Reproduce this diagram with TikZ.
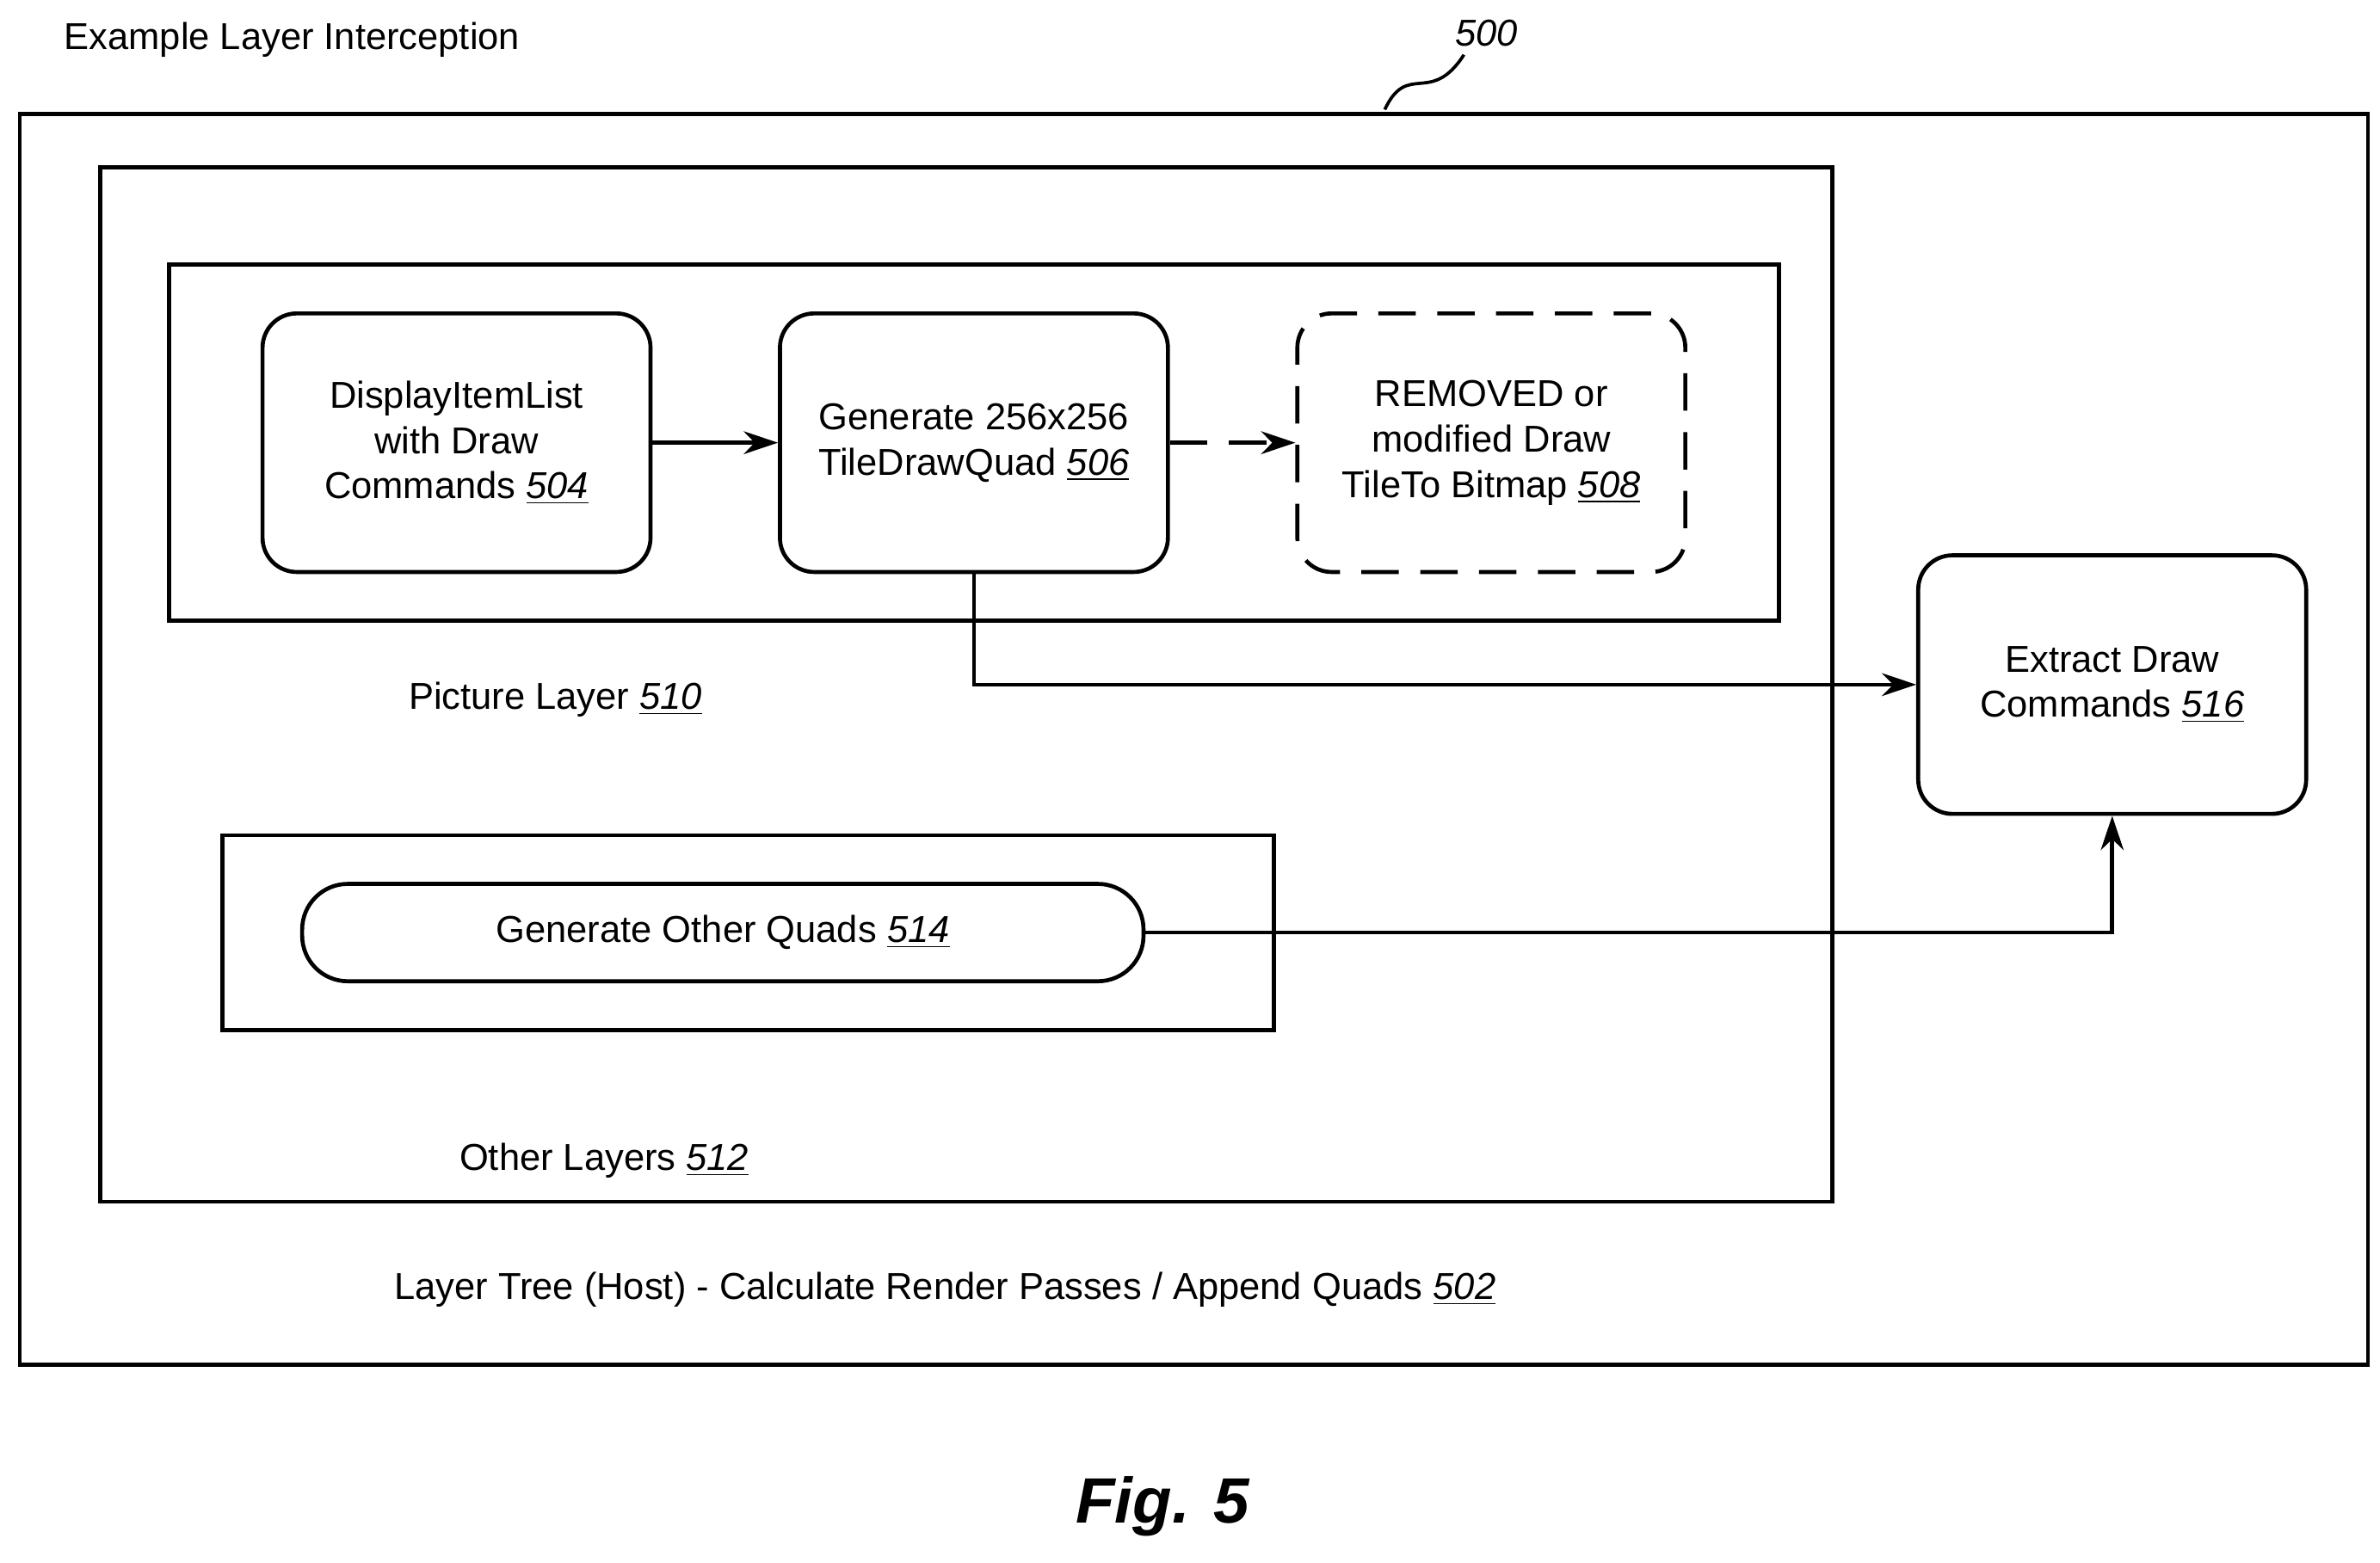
\documentclass[tikz,border=0pt]{standalone}
\usepackage{fontspec}
\setmainfont{Liberation Sans}
\usetikzlibrary{positioning,arrows.meta}
\newcommand{\refnum}[1]{\underline{\textit{#1}}}
\tikzset{
  frame/.style={draw, line width=1.5pt},
  block/.style={draw, line width=1.5pt, rounded corners=0.45cm, align=center,
    minimum width=5.1cm, minimum height=3.4cm, font=\fontsize{14}{17}\selectfont},
  lbl/.style={font=\fontsize{14}{17}\selectfont},
  flow/.style={-{Stealth[length=0.45cm,width=0.3cm]}, line width=1.5pt}
}
\begin{document}
\begin{tikzpicture}[x=0.02cm,y=-0.02cm]
    \useasboundingbox (0,0) rectangle (1564,1027);

    % Frames
    \draw[frame] (13,75) rectangle (1556,897);
    \draw[frame] (66,110) rectangle (1204,790);
    \draw[frame] (111,174) rectangle (1169,408);
    \draw[frame] (146,549) rectangle (837,677);

    % Titles
    \node[lbl, anchor=west] (title) at (36,26) {Example Layer Interception};
    \node[lbl] (fignum) at (977,22) {\textit{500}};
    \draw[line width=1.2pt] (910,72) .. controls (925,40) and (940,70) .. (962,36);

    % Picture layer blocks
    \node[block] (DisplayList) at (300,291) {DisplayItemList\\with Draw\\Commands \refnum{504}};
    \node[block] (TileQuad) at (640,291) {Generate 256x256\\TileDrawQuad \refnum{506}};
    \node[block, dashed, dash pattern=on 14pt off 8pt] (Removed) at (980,291) {REMOVED or\\modified Draw\\TileTo Bitmap \refnum{508}};

    % Extract
    \node[block] (Extract) at (1388,450) {Extract Draw\\Commands \refnum{516}};

    % Other quads
    \node[draw, line width=1.5pt, rounded corners=0.6cm, minimum width=11.06cm,
      minimum height=1.28cm, font=\fontsize{14}{17}\selectfont] (OtherQuads) at (475,613) {Generate Other Quads \refnum{514}};

    % Text labels
    \node[lbl] (PicLayer) at (365,460) {Picture Layer \refnum{510}};
    \node[lbl] (OtherLayers) at (397,763) {Other Layers \refnum{512}};
    \node[lbl] (LayerTree) at (621,848) {Layer Tree (Host) - Calculate Render Passes / Append Quads \refnum{502}};
    \node[font=\bfseries\itshape\fontsize{24}{28}\selectfont] (Fig) at (764,990) {Fig. 5};

    % Draw Arrows
    \draw[flow] (DisplayList) -- (TileQuad);
    \draw[flow, dash pattern=on 14pt off 8pt] (TileQuad) -- (Removed);
    \draw[flow] (TileQuad.south) |- (Extract.west);
    \draw[flow] (OtherQuads.east) -| (Extract.south);
\end{tikzpicture}
\end{document}
